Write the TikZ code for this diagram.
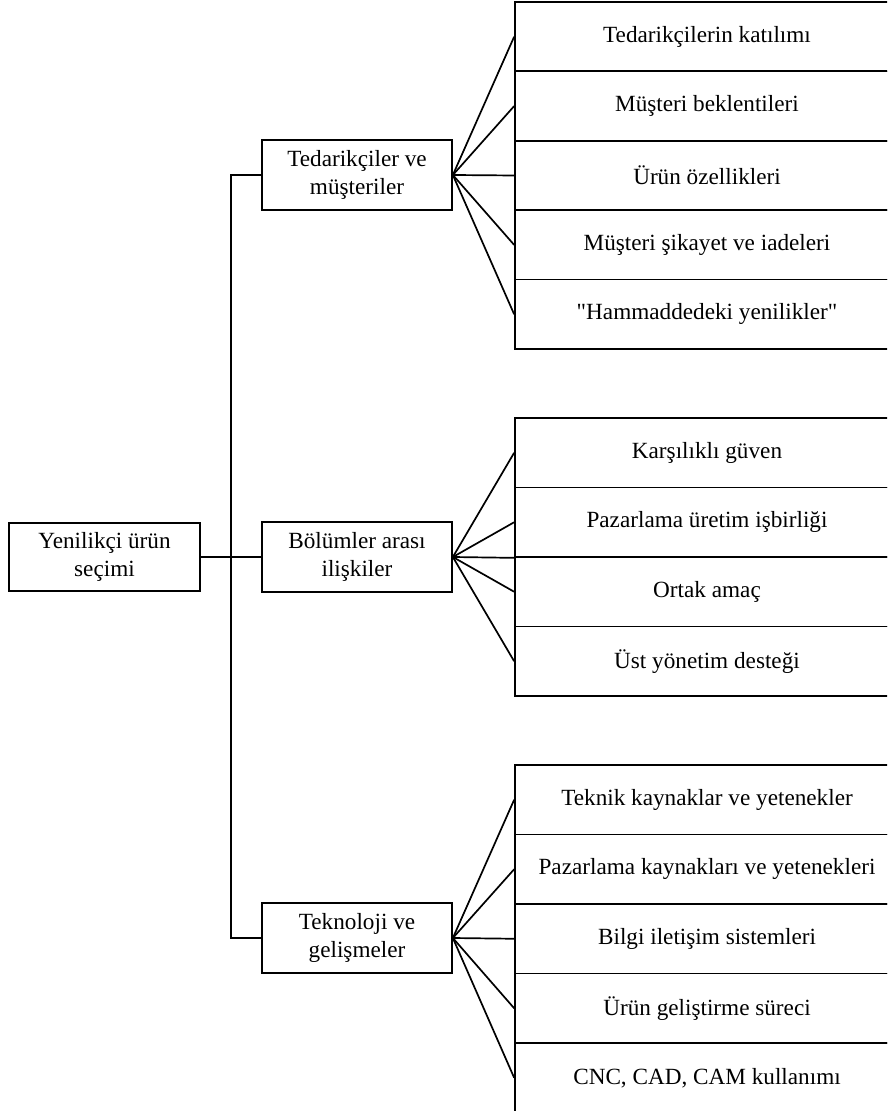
\documentclass[tikz,border=0pt]{standalone}
\usepackage{fontspec}
\setmainfont{Liberation Serif}
\usepackage{tikz}
\usetikzlibrary{positioning}

\begin{document}
\begin{tikzpicture}[x=0.5pt,y=-0.5pt,line width=0.85pt,
  every node/.style={font=\fontsize{11.6}{13.8}\selectfont},
  rootbox/.style={draw,align=center,minimum width=95.5pt,minimum height=34pt,inner sep=0pt},
  midbox/.style={draw,align=center,minimum width=95pt,minimum height=35pt,inner sep=0pt},
  leafbox/.style={draw,minimum width=192pt,minimum height=34.75pt,inner sep=0pt}]
  \useasboundingbox (0,0) rectangle (887,1111);
  \clip (0,0) rectangle (887,1111);

  % Root and trunk
  \node[rootbox] (root) at (104.5,557) {Yenilikçi ürün\\seçimi};
  \node[midbox] (m1) at (357,175) {Tedarikçiler ve\\müşteriler};
  \node[midbox] (m2) at (357,557) {Bölümler arası\\ilişkiler};
  \node[midbox] (m3) at (357,938) {Teknoloji ve\\gelişmeler};
  \coordinate (tr) at (231,557);
  \draw (m1.west) -| (tr) |- (m3.west);
  \draw (root) -- (m2);

  % Tedarikciler ve musteriler
  \foreach \t [count=\i] in {Tedarikçilerin katılımı,Müşteri beklentileri,Ürün özellikleri,
      Müşteri şikayet ve iadeleri,{\textquotedbl Hammaddedeki yenilikler\textquotedbl}}{
    \node[leafbox] (a\i) at (707,{2+69.4*(\i-0.5)}) {\t};
    \draw (m1.east) -- (a\i.west);
  }

  % Bolumler arasi iliskiler
  \foreach \t [count=\i] in {Karşılıklı güven,Pazarlama üretim işbirliği,Ortak amaç,Üst yönetim desteği}{
    \node[leafbox] (b\i) at (707,{418+69.5*(\i-0.5)}) {\t};
    \draw (m2.east) -- (b\i.west);
  }
  \draw (m2.east) -- (b2.south west);

  % Teknoloji ve gelismeler
  \foreach \t [count=\i] in {Teknik kaynaklar ve yetenekler,Pazarlama kaynakları ve yetenekleri,
      Bilgi iletişim sistemleri,Ürün geliştirme süreci,{CNC, CAD, CAM kullanımı}}{
    \node[leafbox] (c\i) at (707,{765+69.5*(\i-0.5)}) {\t};
    \draw (m3.east) -- (c\i.west);
  }
\end{tikzpicture}
\end{document}
